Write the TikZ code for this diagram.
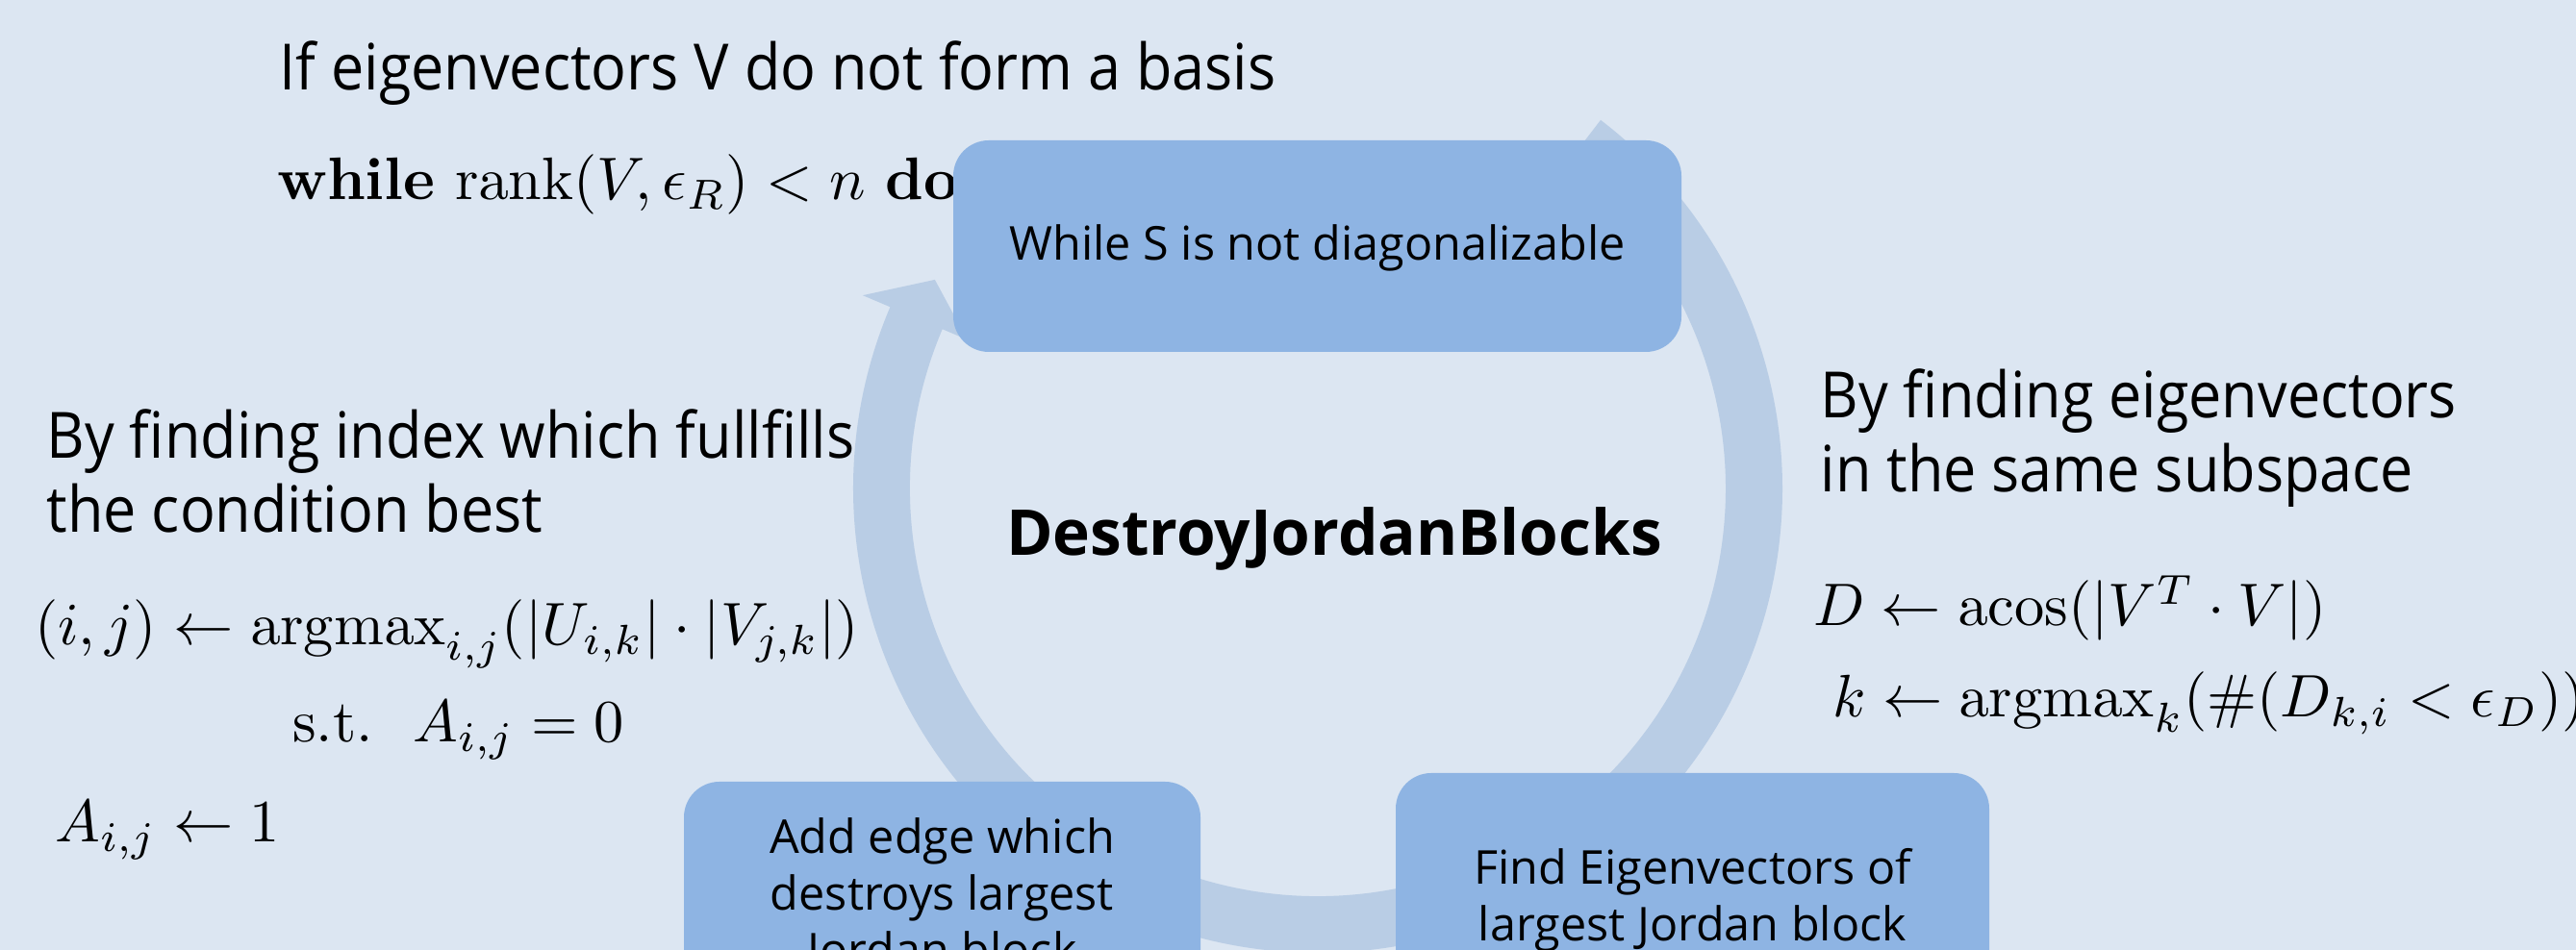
\documentclass[tikz,border=0pt]{standalone}
\usepackage{amsmath}
\usepackage[no-math]{fontspec}
\newfontfamily\segoe[FakeStretch=0.92]{Open Sans}
\newfontfamily\segoewide{Open Sans}
\usetikzlibrary{positioning}
\definecolor{bgblue}{HTML}{DCE6F2}
\definecolor{ringblue}{HTML}{B9CDE5}
\definecolor{boxblue}{HTML}{8EB4E3}

\begin{document}
\begin{tikzpicture}
	\tikzset{BoxStyle/.style = {
			shape=rectangle,
			rounded corners=0.37cm,
			fill=boxblue,
			align=center,
			inner sep=0pt,
			font=\segoewide\fontsize{13.8}{16.8}\selectfont
	}}
	\tikzset{NoteStyle/.style = {
			anchor=base west,
			inner sep=0pt,
			font=\segoe\fontsize{18.9}{22}\selectfont
	}}
	\tikzset{MathStyle/.style = {
			anchor=base west,
			inner sep=0pt,
			scale=1.775, transform shape
	}}
	\useasboundingbox (0,0) rectangle (26.78,9.88);
	\fill[bgblue] (0,0) rectangle (26.78,9.88);
	\clip (0,0) rectangle (26.78,9.88);
	
	% the cycle arrow behind the boxes
	\coordinate (ctr) at (13.70,4.80);
	\fill[ringblue, shift={(ctr)}] (52.5:4.83) arc[start angle=52.5, end angle=-203, radius=4.83]
		-- (-203:5.14) -- (-208.6:4.535) -- (-203:3.96) -- (-203:4.24)
		arc[start angle=-203, end angle=52.5, radius=4.24] -- cycle;
	
	\node[NoteStyle] (cond) at (2.90,8.94) {If eigenvectors V do not form a basis};
	\node[MathStyle] (loop) at (2.87,7.80) {\textbf{while} $\operatorname{rank}(V,\epsilon_R) < n$ \textbf{do}};
	
	\node[NoteStyle] (idx1) at (0.48,5.11) {By finding index which fullfills};
	\node[NoteStyle, below=0.77cm of idx1.base west, anchor=base west] (idx2) {the condition best};
	\node[MathStyle] (argij) at (0.35,3.17) {$(i,j) \leftarrow \operatorname{argmax}_{i,j}(|U_{i,k}| \cdot |V_{j,k}|)$};
	\node[MathStyle] (st) at (3.03,2.16) {$\text{s.t.}\ \ A_{i,j} = 0$};
	\node[MathStyle] (setA) at (0.56,1.12) {$A_{i,j} \leftarrow 1$};
	
	\node[NoteStyle] (sub1) at (18.92,5.53) {By finding eigenvectors};
	\node[NoteStyle, below=0.77cm of sub1.base west, anchor=base west] (sub2) {in the same subspace};
	\node[MathStyle] (acos) at (18.84,3.37) {$D \leftarrow \mathrm{acos}(|V^T \cdot V|)$};
	\node[MathStyle] (argk) at (19.04,2.42) {$k \leftarrow \operatorname{argmax}_k(\#(D_{k,i} < \epsilon_D))$};
	
	\node[font=\segoewide\bfseries\fontsize{18.7}{22}\selectfont, anchor=base] (title) at (13.87,4.10) {DestroyJordanBlocks};
	
	\node[BoxStyle, minimum width=7.57cm, minimum height=2.20cm, text depth=0.08cm] (while) at (13.695,7.32) {While S is not diagonalizable};
	\node[BoxStyle, minimum width=5.37cm, minimum height=2.40cm] (add) at (9.795,0.55) {Add edge which\\destroys largest\\Jordan block};
	\node[BoxStyle, minimum width=6.17cm, minimum height=2.64cm] (find) at (17.595,0.52) {Find Eigenvectors of\\largest Jordan block};
\end{tikzpicture}
\end{document}
